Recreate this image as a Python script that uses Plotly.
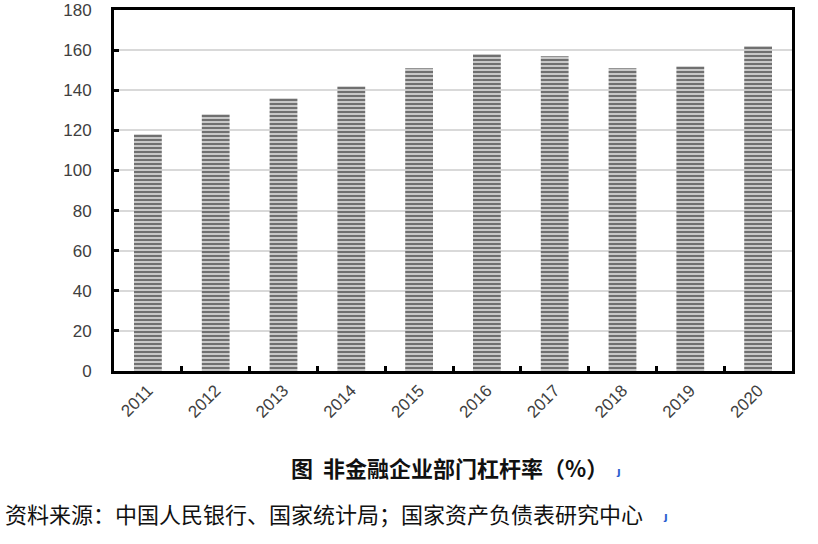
import plotly.graph_objects as go

years = ["2011", "2012", "2013", "2014", "2015", "2016", "2017", "2018", "2019", "2020"]
leverage = [118, 128, 136, 142, 151, 158, 157, 151, 152, 162]
y_ticks = [0, 20, 40, 60, 80, 100, 120, 140, 160, 180]

title_text = "图  非金融企业部门杠杆率（%）"
source_text = "资料来源：中国人民银行、国家统计局；国家资产负债表研究中心"

W, H = 818, 544
L, T, R, B = 114, 10, 792, 371

fig = go.Figure()
fig.add_trace(go.Bar(
    x=years, y=leverage,
    marker=dict(
        color="#c4c4c4",
        line=dict(width=0),
        pattern=dict(shape="-", fgcolor="#666666", bgcolor="#c8c8c8", size=4, solidity=0.45, fillmode="replace"),
    ),
    width=0.41,
))

fig.update_layout(
    width=W, height=H,
    margin=dict(l=L, r=W - R, t=T, b=H - B, autoexpand=False),
    paper_bgcolor="white", plot_bgcolor="white",
    showlegend=False,
    font=dict(family="Liberation Sans, Arial, sans-serif", color="#404040"),
)
fig.update_xaxes(
    type="category", automargin=False,
    showline=True, linecolor="black", linewidth=3, mirror=True,
    ticks="inside", tickson="boundaries", ticklen=5, tickwidth=3, tickcolor="black",
    tickangle=-45, tickfont=dict(size=17, color="#404040"),
    showgrid=False,
)
fig.update_yaxes(
    range=[0, 180], tickvals=y_ticks, automargin=False,
    showline=True, linecolor="black", linewidth=3, mirror=True,
    ticks="inside", ticklen=5, tickwidth=3, tickcolor="black",
    tickfont=dict(size=17, color="#404040"),
    showgrid=True, gridcolor="#d9d9d9", gridwidth=1.5,
    zeroline=False, ticklabelstandoff=16,
)

def px(xs):
    return (xs - L) / (R - L)

def py(ys):
    return -(ys - B) / (B - T)

fig.add_annotation(
    text="<b>" + title_text + "</b>", xref="paper", yref="paper",
    x=px(289), y=py(467), xanchor="left", yanchor="middle",
    showarrow=False, font=dict(family="Noto Sans CJK SC", size=22, color="#111111"),
)
fig.add_annotation(
    text="<b>ȷ</b>", xref="paper", yref="paper",
    x=px(618), y=py(471), xanchor="center", yanchor="middle",
    showarrow=False, font=dict(family="DejaVu Sans", size=11, color="#2f5fd0"),
)
fig.add_annotation(
    text=source_text, xref="paper", yref="paper",
    x=px(3), y=py(513), xanchor="left", yanchor="middle",
    showarrow=False, font=dict(family="Noto Sans CJK SC", size=22, color="#111111"),
)
fig.add_annotation(
    text="<b>ȷ</b>", xref="paper", yref="paper",
    x=px(665), y=py(516), xanchor="center", yanchor="middle",
    showarrow=False, font=dict(family="DejaVu Sans", size=11, color="#2f5fd0"),
)

fig.write_html(
    "out.html",
    config={"displayModeBar": False},
    post_script="document.body.style.margin='0px';",
)
